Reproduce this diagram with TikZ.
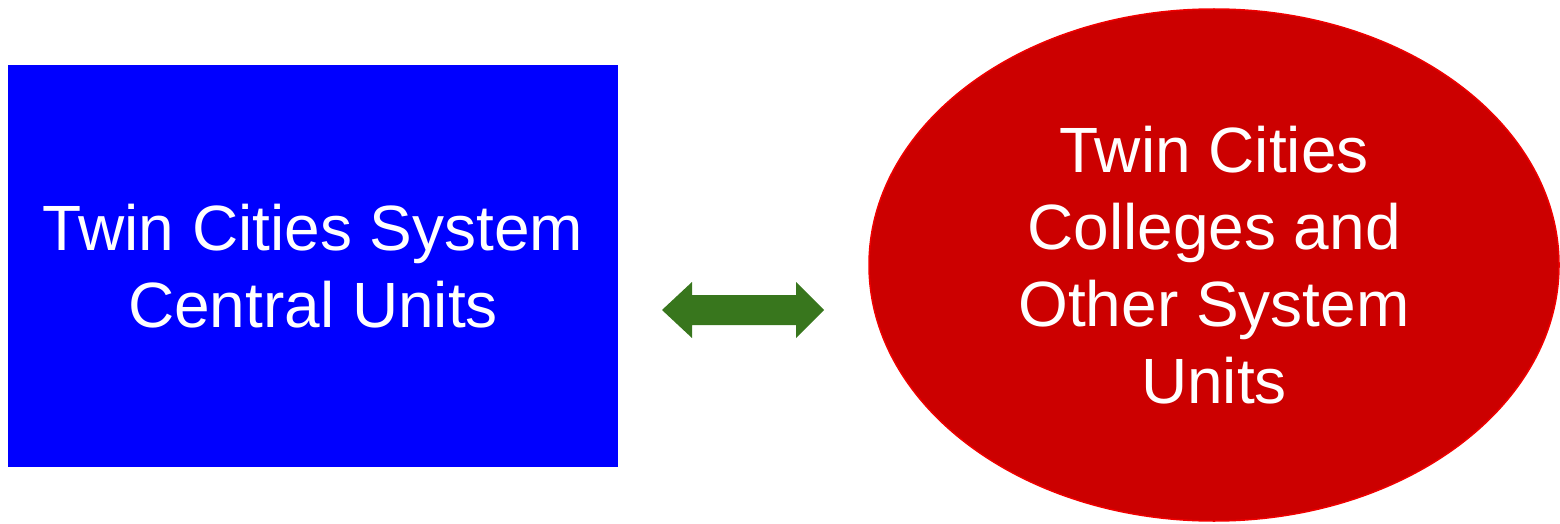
\documentclass[tikz,border=0pt]{standalone}
\usepackage{fontspec}
\setmainfont{Liberation Sans}
\usetikzlibrary{shapes.geometric}
\definecolor{boxblue}{RGB}{0,0,255}
\definecolor{ovalred}{RGB}{204,0,0}
\definecolor{ovaledge}{RGB}{240,0,0}
\definecolor{arrowgreen}{RGB}{56,118,29}
\tikzset{
  bigtext/.style={text=white, align=center, font=\fontsize{64}{77}\selectfont},
  bluebox/.style={rectangle, fill=boxblue, draw=none, minimum width=610pt, minimum height=402pt, inner sep=0pt},
  redoval/.style={ellipse, fill=ovalred, draw=ovaledge, line width=1.5pt, minimum width=690pt, minimum height=512pt, inner sep=0pt},
  greenarrow/.style={fill=arrowgreen, draw=none}
}
\begin{document}
\begin{tikzpicture}[x=1pt,y=-1pt]
\useasboundingbox (0,0) rectangle (1560,524);
\node[bluebox, bigtext] (central) at (313,266) {Twin Cities System\\Central Units};
\node[redoval, bigtext] (colleges) at (1214,265) {Twin Cities\\Colleges and\\Other System\\Units};
\fill[greenarrow] (662,310) -- (692,282) -- (692,295) -- (796,295) -- (796,282) -- (824,310) -- (796,338) -- (796,325) -- (692,325) -- (692,338) -- cycle;
\end{tikzpicture}
\end{document}
